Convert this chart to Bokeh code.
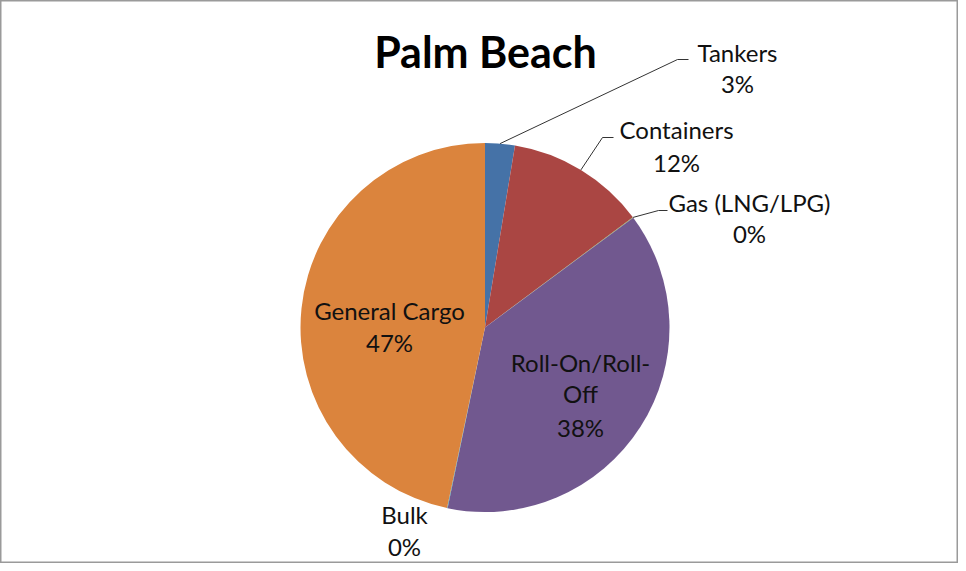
import math
from bokeh.plotting import figure
from bokeh.models import Range1d, ColumnDataSource
from bokeh.core.properties import value
from bokeh.embed import file_html
from bokeh.resources import INLINE

# ---- data ----
categories = ["Tankers", "Containers", "Gas (LNG/LPG)", "Roll-On/Roll-Off", "Bulk", "General Cargo"]
shares = [2.6, 12.2, 0.05, 38.4, 0.05, 46.7]
colors = ["#4572A7", "#AA4643", "#89A54E", "#71588F", "#4198AF", "#DB843D"]
title_text = "Palm Beach"

# ---- layout (picture pixel coords -> data coords) ----
W, H = 958, 563
def X(px):
    return px
def Y(py):
    return H - py

CX, CY, R = X(484.5), Y(327), 184.5

p = figure(width=W, height=H, output_backend="svg", toolbar_location=None,
           x_range=Range1d(0, W), y_range=Range1d(0, H), min_border=0)
p.axis.visible = False
p.grid.visible = False
p.outline_line_color = "#9a9a9a"
p.outline_line_width = 2
p.background_fill_color = "white"
p.border_fill_color = "white"

total = sum(shares)
cum = [0.0]
for v in shares:
    cum.append(cum[-1] + v / total)
starts = [math.pi / 2 - 2 * math.pi * c for c in cum[:-1]]
ends = [math.pi / 2 - 2 * math.pi * c for c in cum[1:]]
src = ColumnDataSource(dict(start=starts, end=ends, color=colors, name=categories))
p.wedge(x=CX, y=CY, radius=R, start_angle="start", end_angle="end", direction="clock",
        fill_color="color", line_color=None, source=src)

pct = [f"{int(v / total * 100 + 0.5)}%" for v in shares]

# label lines: (text, center x, vertical centres) in picture pixels
label_lines = {
    "Tankers": (["Tankers"], 737, [51.5, 83]),
    "Containers": (["Containers"], 676, [129, 161.5]),
    "Gas (LNG/LPG)": (["Gas (LNG/LPG)"], 749, [201.5, 233]),
    "Roll-On/Roll-Off": (["Roll-On/Roll-", "Off"], 580, [361.5, 393, 426.5]),
    "Bulk": (["Bulk"], 404, [513.5, 545.5]),
    "General Cargo": (["General Cargo"], 389, [310, 341.5]),
}
tx, ty, tt = [], [], []
for name, pc in zip(categories, pct):
    lines, cx, ys = label_lines[name]
    for s, yy in zip(lines + [pc], ys):
        tx.append(X(cx)); ty.append(Y(yy)); tt.append(s)
p.text(x=tx, y=ty, text=tt, text_align="center", text_baseline="middle",
       text_font=value("Lato"), text_font_size="24px", text_color="#111111")

# leader lines for the outside labels
leader_ends = {
    "Tankers": [(677, 59), (688, 59)],
    "Containers": [(602, 137), (613, 137)],
    "Gas (LNG/LPG)": [(658, 210), (667, 210)],
}
xs, ys2 = [], []
for i, name in enumerate(categories):
    if name in leader_ends:
        mid = (cum[i] + cum[i + 1]) / 2 * 2 * math.pi
        sx = CX + R * math.sin(mid)
        sy = CY + R * math.cos(mid)
        pts = leader_ends[name]
        xs.append([sx] + [X(a) for a, b in pts])
        ys2.append([sy] + [Y(b) for a, b in pts])
p.multi_line(xs=xs, ys=ys2, line_color="#333333", line_width=1)

p.text(x=[X(485)], y=[Y(51)], text=[title_text], text_align="center",
       text_baseline="middle", text_font=value("Lato"), text_font_style="bold",
       text_font_size="43px", text_color="black")

open("out.html", "w").write(file_html(p, INLINE))
